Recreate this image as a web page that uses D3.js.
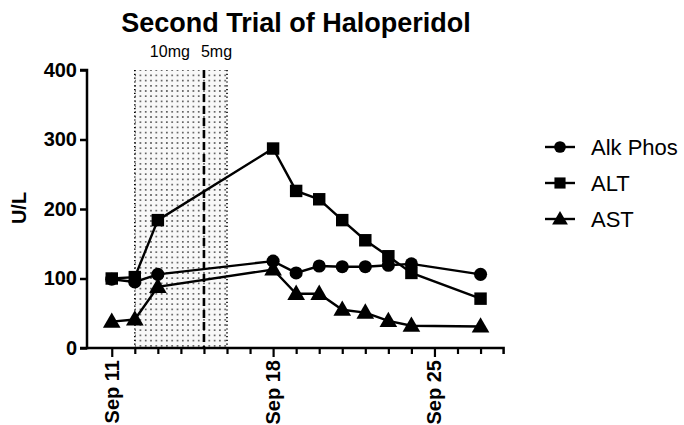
<!DOCTYPE html>
<html><head><meta charset="utf-8">
<script src="https://cdn.jsdelivr.net/npm/d3@7"></script>
<style>
html,body{margin:0;padding:0;background:#fff;}
text{font-family:"Liberation Sans",Arial,sans-serif;fill:#000;}
</style></head>
<body><svg id="c" width="684" height="425"></svg>
<script>
// Data (day of September)
const days = [11, 12, 13, 18, 19, 20, 21, 22, 23, 24, 27];
const alkPhos = [99, 95, 106, 125, 108, 118, 117, 117, 119, 121, 106];
const alt = [100, 102, 184, 287, 226, 214, 184, 155, 132, 108, 71];
const ast = [38, 41, 88, 113, 78, 78, 55, 51, 39, 32, 31];
const seriesNames = ["Alk Phos", "ALT", "AST"];
const yTicks = [0, 100, 200, 300, 400];
const xMajorTicks = [11, 18, 25];
const xLabels = ["Sep 11", "Sep 18", "Sep 25"];
const doseStart = 12, doseSwitch = 15, doseEnd = 16;
const doseLabels = ["10mg", "5mg"];

const svg = d3.select("#c");
const x = d3.scaleLinear().domain([10, 28]).range([88.7, 503.6]);
const y = d3.scaleLinear().domain([0, 400]).range([348, 70]);

// pattern
const defs = svg.append("defs");
const pat = defs.append("pattern").attr("id", "dots").attr("patternUnits", "userSpaceOnUse")
  .attr("width", 5.3).attr("height", 5.2);
pat.append("rect").attr("width", 5.3).attr("height", 5.2).attr("fill", "#f8f8f8");
pat.append("circle").attr("cx", 2.6).attr("cy", 2.6).attr("r", 0.95).attr("fill", "#444");

// shaded dose region
svg.append("rect").attr("x", x(doseStart)).attr("y", y(400))
  .attr("width", x(doseEnd) - x(doseStart)).attr("height", y(0) - y(400))
  .attr("fill", "url(#dots)");
[doseStart, doseEnd].forEach(d => {
  svg.append("line").attr("x1", x(d)).attr("x2", x(d)).attr("y1", y(400)).attr("y2", y(0))
    .attr("stroke", "#000").attr("stroke-width", 1.6).attr("stroke-dasharray", "1.2,2.6");
});
svg.append("line").attr("x1", x(doseSwitch)).attr("x2", x(doseSwitch)).attr("y1", y(400)).attr("y2", y(0))
  .attr("stroke", "#000").attr("stroke-width", 2.6).attr("stroke-dasharray", "8,4");

// dose labels
svg.append("text").attr("x", (x(doseStart) + x(doseSwitch)) / 2 + 0.5).attr("y", 57)
  .attr("text-anchor", "middle").attr("font-size", 16).text(doseLabels[0]);
svg.append("text").attr("x", (x(doseSwitch) + x(doseEnd)) / 2 + 1).attr("y", 57)
  .attr("text-anchor", "middle").attr("font-size", 16).text(doseLabels[1]);

// axes
const yAxis = d3.axisLeft(y).tickValues(yTicks).tickSize(7).tickPadding(3);
const gy = svg.append("g").attr("transform", "translate(87,0)").call(yAxis);
gy.select(".domain").attr("stroke-width", 2.5).attr("d", `M-7,${y(400)}H0V${y(0)}H-7`);
gy.selectAll(".tick line").attr("stroke-width", 2.5);
gy.selectAll(".tick text").attr("font-size", 20).attr("font-weight", "bold")
  .attr("font-family", "'Liberation Sans',Arial,sans-serif");

const allDays = d3.range(11, 29);
const xAxis = d3.axisBottom(x).tickValues(allDays).tickSize(6).tickFormat("");
const gx = svg.append("g").attr("transform", "translate(0,348)").call(xAxis);
gx.select(".domain").attr("stroke-width", 2.5).attr("d", `M87,0H${x(28)}V6`);
gx.selectAll(".tick line").attr("stroke-width", 2.2)
  .attr("y2", d => xMajorTicks.includes(d) ? 9 : 6);
gx.selectAll(".tick").filter(d => d === 28).remove();
// rotated labels
xMajorTicks.forEach((d, i) => {
  svg.append("text")
    .attr("transform", `translate(${x(d) + 7},${360}) rotate(-90)`)
    .attr("text-anchor", "end").attr("font-size", 20).attr("font-weight", "bold")
    .text(xLabels[i]);
});

// y label
svg.append("text").attr("transform", "translate(26,208) rotate(-90)")
  .attr("text-anchor", "middle").attr("font-size", 20).attr("font-weight", "bold").text("U/L");

// title
svg.append("text").attr("x", 296).attr("y", 32).attr("text-anchor", "middle")
  .attr("font-size", 27).attr("font-weight", "bold").text("Second Trial of Haloperidol");

// series
const series = [alkPhos, alt, ast];
const shapes = [d3.symbolCircle, d3.symbolSquare, d3.symbolTriangle];
const sizes = [135, 155, 135];
const line = d3.line().x(d => x(d[0])).y(d => y(d[1]));
series.forEach((vals, si) => {
  const pts = days.map((d, i) => [d, vals[i]]);
  svg.append("path").attr("d", line(pts)).attr("fill", "none")
    .attr("stroke", "#000").attr("stroke-width", 2.4);
  svg.selectAll(null).data(pts).enter().append("path")
    .attr("d", d3.symbol().type(shapes[si]).size(sizes[si]))
    .attr("transform", d => `translate(${x(d[0])},${y(d[1]) + (si === 2 ? 1 : 0)})`)
    .attr("fill", "#000");
});

// legend
const legY = [147, 183, 219];
seriesNames.forEach((n, i) => {
  svg.append("line").attr("x1", 545).attr("x2", 575).attr("y1", legY[i]).attr("y2", legY[i])
    .attr("stroke", "#000").attr("stroke-width", 2.4);
  svg.append("path").attr("d", d3.symbol().type(shapes[i]).size(sizes[i] * 0.8))
    .attr("transform", `translate(560,${legY[i] + (i === 2 ? 1 : 0)})`).attr("fill", "#000");
  svg.append("text").attr("x", 591).attr("y", legY[i] + 7.5).attr("font-size", 22).text(n);
});
</script>
</body></html>
